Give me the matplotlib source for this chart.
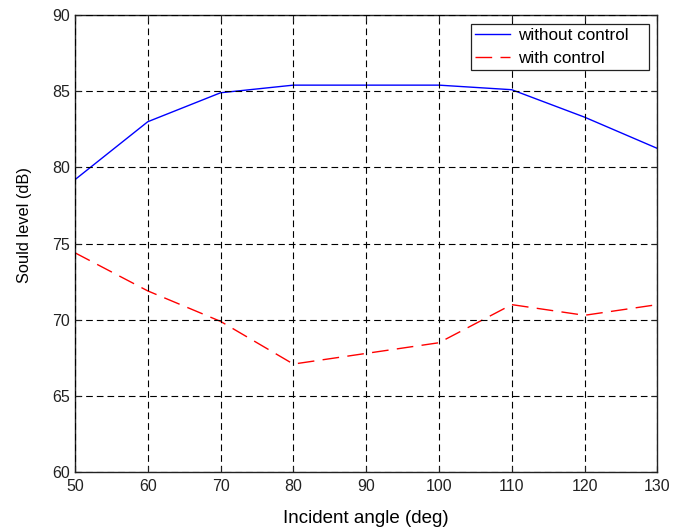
import matplotlib
matplotlib.use("Agg")
import matplotlib.pyplot as plt

plt.rcParams['font.family'] = ['Liberation Sans', 'DejaVu Sans']

angles = [50, 60, 70, 80, 90, 100, 110, 120, 130]
without_control = [79.2, 83.0, 84.9, 85.4, 85.4, 85.4, 85.1, 83.3, 81.25]
with_control = [74.4, 71.9, 69.9, 67.1, 67.8, 68.5, 71.0, 70.3, 71.0]

x_ticks = [50, 60, 70, 80, 90, 100, 110, 120, 130]
y_ticks = [60, 65, 70, 75, 80, 85, 90]

fig = plt.figure(figsize=(6.88, 5.29), dpi=100)
ax = fig.add_axes([0.109, 0.1072, 0.8464, 0.8644])

ax.plot(angles, without_control, color='#0000ff', lw=1.0, label='without control')
ax.plot(angles, with_control, color='#ff0000', lw=1.0, dashes=(12, 6),
        label='with control')

ax.set_xlim(50, 130)
ax.set_ylim(60, 90)
ax.set_xticks(x_ticks)
ax.set_yticks(y_ticks)
ax.tick_params(direction='in', top=True, right=True, length=4, width=0.8,
               labelsize=11.5, colors='#222222')
ax.tick_params(axis='x', pad=5)
for s in ax.spines.values():
    s.set_color('#222222')
    s.set_linewidth(1.0)

ax.grid(True, color='black', linestyle=(0, (6, 3.6)), linewidth=0.8)
ax.set_axisbelow(False)

ax.set_xlabel('Incident angle (deg)', fontsize=13.5, labelpad=11)
ax.set_ylabel('Sould level (dB)', fontsize=11.8)
ax.yaxis.set_label_coords(-0.0739, 0.54)

leg = ax.legend(loc='upper left', bbox_to_anchor=(0.68, 0.0, 0.3053, 0.981),
                mode='expand', fontsize=12.3, frameon=True, fancybox=False,
                edgecolor='#222222', framealpha=1, borderpad=0.25,
                handlelength=2.05, handletextpad=0.45, labelspacing=0.45,
                borderaxespad=0.0)
leg.get_frame().set_linewidth(0.9)

fig.savefig('out.png', dpi=100)
